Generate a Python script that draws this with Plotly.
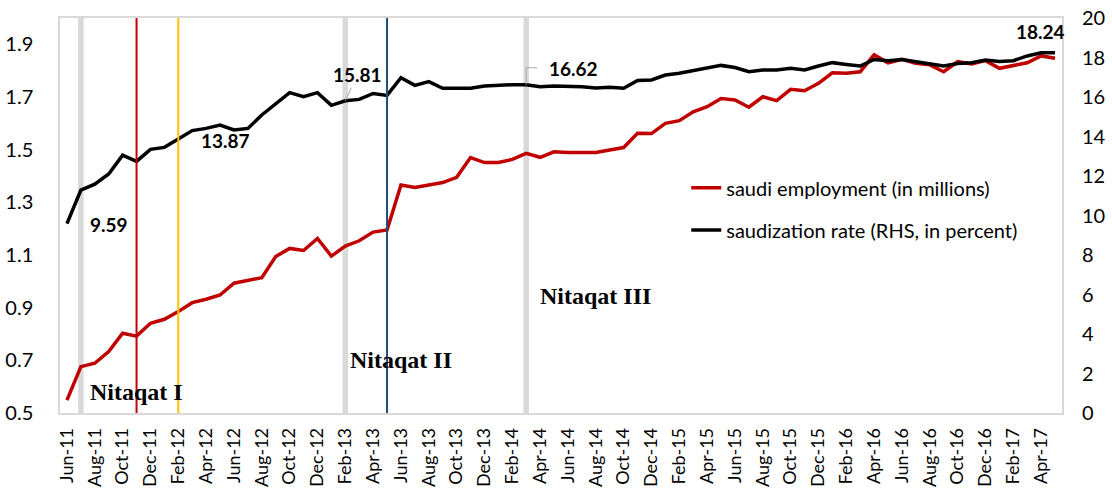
import pandas as pd
import plotly.graph_objects as go

months = list(pd.date_range("2011-06-01", "2017-05-01", freq="MS").strftime("%b-%y"))

saudi_employment = [
    0.549, 0.676, 0.689, 0.733, 0.803, 0.792, 0.841, 0.856, 0.885, 0.919, 0.932, 0.948,
    0.993, 1.003, 1.014, 1.094, 1.125, 1.117, 1.163, 1.096, 1.134, 1.154, 1.187, 1.195,
    1.366, 1.356, 1.366, 1.375, 1.395, 1.470, 1.451, 1.451, 1.463, 1.486, 1.471, 1.492,
    1.489, 1.489, 1.489, 1.499, 1.508, 1.562, 1.561, 1.600, 1.610, 1.644, 1.663, 1.694,
    1.689, 1.661, 1.701, 1.686, 1.729, 1.724, 1.752, 1.792, 1.790, 1.796, 1.860, 1.830,
    1.843, 1.828, 1.822, 1.796, 1.834, 1.825, 1.838, 1.809, 1.818, 1.830, 1.856, 1.847,
]

saudization_rate = [
    9.59, 11.29, 11.59, 12.10, 13.05, 12.74, 13.35, 13.45, 13.87, 14.30, 14.41, 14.58,
    14.33, 14.41, 15.09, 15.68, 16.22, 16.02, 16.22, 15.58, 15.81, 15.88, 16.18, 16.08,
    16.98, 16.59, 16.78, 16.44, 16.44, 16.44, 16.56, 16.61, 16.62, 16.62, 16.52, 16.56,
    16.56, 16.52, 16.46, 16.49, 16.44, 16.84, 16.86, 17.11, 17.20, 17.33, 17.49, 17.60,
    17.49, 17.28, 17.37, 17.37, 17.45, 17.37, 17.57, 17.74, 17.65, 17.57, 17.90, 17.84,
    17.90, 17.79, 17.70, 17.57, 17.70, 17.74, 17.87, 17.80, 17.84, 18.08, 18.24, 18.24,
]

left_ticks = [0.5, 0.7, 0.9, 1.1, 1.3, 1.5, 1.7, 1.9]
right_ticks = [0, 2, 4, 6, 8, 10, 12, 14, 16, 18, 20]

phase_months = ["Jul-11", "Feb-13", "Mar-14"]
event_months = ["Nov-11", "Feb-12", "May-13"]
event_colors = ["#c00000", "#ffc000", "#1f4e79"]

phase_labels = ["Nitaqat I", "Nitaqat II", "Nitaqat III"]
phase_label_x = ["Nov-11", "Jun-13", "Aug-14"]
phase_label_y = [0.58, 0.70, 0.944]

label_idx = [0, 8, 20, 33, 71]

FONT = "Lato"
RED = "#c00000"
GRID = "#d9d9d9"

fig = go.Figure()
fig.add_trace(go.Scatter(
    x=months, y=saudi_employment, mode="lines", name="saudi employment (in millions)",
    line=dict(color=RED, width=3.5), yaxis="y", legend="legend", showlegend=True,
))
fig.add_trace(go.Scatter(
    x=months, y=saudization_rate, mode="lines", name="saudization rate (RHS, in percent)",
    line=dict(color="black", width=3.5), yaxis="y2", legend="legend2", showlegend=True,
))

shapes = []
for m in phase_months:
    shapes.append(dict(type="line", xref="x", yref="paper", x0=m, x1=m, y0=0, y1=1,
                       line=dict(color=GRID, width=5.5), layer="below"))
for m, c in zip(event_months, event_colors):
    shapes.append(dict(type="line", xref="x", yref="paper", x0=m, x1=m, y0=0, y1=1,
                       line=dict(color=c, width=2), layer="above"))

annotations = []
LBL = dict(family=FONT, size=19, color="black", weight="bold")
offsets = {0: (42, -1, False), 8: (47, -1, False), 20: (12, 26, True), 33: (47, 16, False), 71: (-15, 21, False)}
for i in label_idx:
    dx, dy, arrow = offsets[i]
    txt = f"{saudization_rate[i]:.2f}"
    if arrow:
        annotations.append(dict(x=months[i], y=saudization_rate[i], xref="x", yref="y2",
                                text=txt, showarrow=True, arrowhead=0, arrowwidth=1,
                                arrowcolor="#a6a6a6", ax=dx, ay=-dy, standoff=0, font=LBL))
    else:
        annotations.append(dict(x=months[i], y=saudization_rate[i], xref="x", yref="y2",
                                text=txt, showarrow=False, xshift=dx, yshift=dy, font=LBL))

# elbow leader for the Mar-14 label
shapes.append(dict(type="path", xref="x", yref="y2", xsizemode="pixel", ysizemode="pixel",
                   xanchor=months[33], yanchor=saudization_rate[33],
                   path="M0,0 L0,17 L11,17", line=dict(color="#a6a6a6", width=1)))

for t, xm, yv in zip(phase_labels, phase_label_x, phase_label_y):
    annotations.append(dict(x=xm, y=yv, xref="x", yref="y", text=t, showarrow=False,
                            font=dict(family="Liberation Serif", size=24, color="black",
                                      weight="bold")))

fig.update_layout(
    width=1112, height=488,
    margin=dict(l=60, r=50, t=18, b=75),
    paper_bgcolor="white", plot_bgcolor="white",
    font=dict(family=FONT, color="black"),
    showlegend=True,
    xaxis=dict(
        type="category", categoryorder="array", categoryarray=months,
        range=[-0.5, len(months) - 0.5],
        tickvals=months[::2], ticktext=months[::2], tickangle=-90,
        tickfont=dict(family=FONT, size=18, color="black"),
        showgrid=False, zeroline=False, showline=True, linecolor=GRID, linewidth=1.5,
        mirror=True, ticks="", ticklabelstandoff=6, automargin=False,
    ),
    yaxis=dict(
        range=[0.5, 2.0], tickvals=left_ticks, ticktext=[f"{v:.1f}" for v in left_ticks],
        tickfont=dict(family=FONT, size=20, color="black"),
        showgrid=False, zeroline=False, showline=True, linecolor=GRID, linewidth=1.5,
        mirror=True, ticks="", ticklabelstandoff=21, automargin=False,
    ),
    yaxis2=dict(
        range=[0, 20], tickvals=right_ticks, overlaying="y", side="right",
        tickfont=dict(family=FONT, size=20, color="black"),
        showgrid=False, zeroline=False, showline=False, ticks="", ticklabelstandoff=19,
        automargin=False,
    ),
    legend=dict(x=0.625, y=0.57, xanchor="left", yanchor="middle", bgcolor="rgba(0,0,0,0)",
                font=dict(family=FONT, size=20, color="black")),
    legend2=dict(x=0.625, y=0.463, xanchor="left", yanchor="middle", bgcolor="rgba(0,0,0,0)",
                 font=dict(family=FONT, size=20, color="black")),
    shapes=shapes,
    annotations=annotations,
)

fig.write_html("out.html", config={"displayModeBar": False},
               post_script="document.body.style.margin='0px';")
